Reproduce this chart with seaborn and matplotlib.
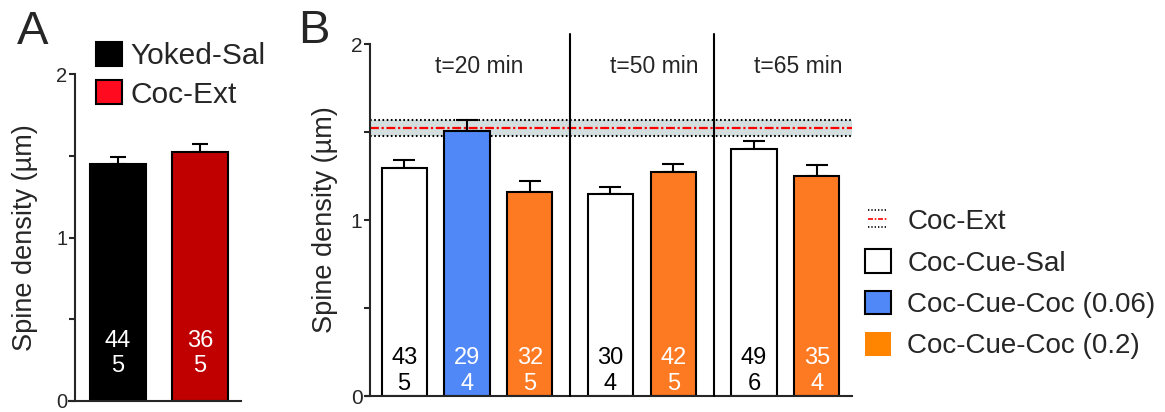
import numpy as np
import matplotlib
matplotlib.use('agg')
import matplotlib.pyplot as plt
from matplotlib.patches import Patch
from matplotlib.lines import Line2D
from matplotlib.legend_handler import HandlerBase
import seaborn as sns

# panel A: baseline groups
a_groups = ['Yoked-Sal', 'Coc-Ext']
a_means = [1.448, 1.523]
a_sem = [0.045, 0.047]
a_neurons = [44, 36]
a_animals = [5, 5]

# panel B: cue test at three time points
b_times = ['t=20 min', 't=20 min', 't=20 min', 't=50 min', 't=50 min', 't=65 min', 't=65 min']
b_conditions = ['Coc-Cue-Sal', 'Coc-Cue-Coc (0.06)', 'Coc-Cue-Coc (0.2)',
                'Coc-Cue-Sal', 'Coc-Cue-Coc (0.2)',
                'Coc-Cue-Sal', 'Coc-Cue-Coc (0.2)']
b_means = [1.294, 1.507, 1.161, 1.146, 1.271, 1.402, 1.248]
b_sem = [0.049, 0.059, 0.062, 0.043, 0.049, 0.048, 0.066]
b_neurons = [43, 29, 32, 30, 42, 49, 35]
b_animals = [5, 4, 5, 4, 5, 6, 4]

a_colors = {'Yoked-Sal': '#000000', 'Coc-Ext': '#c00000'}
b_colors = {'Coc-Cue-Sal': '#ffffff', 'Coc-Cue-Coc (0.06)': '#5088f8',
            'Coc-Cue-Coc (0.2)': '#fd7922'}
band_color = '#d6dfdf'

sns.set_style('ticks')
plt.rcParams['font.family'] = ['Liberation Sans', 'DejaVu Sans']

fig = plt.figure(figsize=(11.65, 4.12), dpi=100)
ax_a = fig.add_axes([69 / 1165, 1 - 401 / 412, (241 - 69) / 1165, 327 / 412])
ax_b = fig.add_axes([365 / 1165, 1 - 396 / 412, (852 - 365) / 1165, 352 / 412])


def style_axis(ax, spine_x, ylabel, labelpad, ticksize=15):
    ax.set_ylim(0, 2)
    ax.set_yticks([0, 1, 2])
    ax.set_yticks([0.5, 1.5], minor=True)
    ax.tick_params(axis='y', which='both', direction='out', length=4.5, width=1.5,
                   labelsize=ticksize, pad=1)
    ax.tick_params(axis='x', length=0, labelbottom=False)
    ax.spines['left'].set_position(('data', spine_x))
    for s in ['left', 'bottom']:
        ax.spines[s].set_linewidth(1.5)
    sns.despine(ax=ax)
    ax.set_ylabel(ylabel, fontsize=19.5, labelpad=labelpad)
    ax.set_xlabel('')


# ---- panel A ----
sns.barplot(x=a_groups, y=a_means, hue=a_groups, palette=a_colors, legend=False,
            saturation=1, width=0.68, edgecolor='black', linewidth=1.5, ax=ax_a, zorder=2)
ax_a.errorbar(range(len(a_means)), a_means, yerr=[np.zeros(len(a_sem)), a_sem],
              fmt='none', ecolor='black', elinewidth=1.5, capsize=6, capthick=1.5, zorder=1)
ax_a.set_xlim(-0.595, 1.5)
style_axis(ax_a, -0.524, 'Spine density (µm)', 13, ticksize=14.5)
for i, (n, m) in enumerate(zip(a_neurons, a_animals)):
    ax_a.text(i, 0.29, f'{n}\n{m}', ha='center', va='center', color='white', fontsize=17)

ax_a.legend(handles=[Patch(facecolor='#000000', edgecolor='black', lw=1.5),
                     Patch(facecolor='#ff0a1e', edgecolor='black', lw=1.5)],
            labels=a_groups, loc='upper left',
            bbox_to_anchor=(96 / 1165, 1 - 42 / 412), bbox_transform=fig.transFigure,
            frameon=False, fontsize=21.5, handlelength=0.87, handleheight=0.87,
            handletextpad=0.27, labelspacing=0.33, borderpad=0, borderaxespad=0)

# ---- panel B ----
group_gap = 1.283
positions = []
x = 0.0
for i, t in enumerate(b_times):
    if i > 0:
        x += 1 if t == b_times[i - 1] else group_gap
    positions.append(x)
positions = np.array(positions)

ext_mean, ext_sem = a_means[1], a_sem[1]
spine_b = positions[0] - 0.543
right_b = positions[-1] + 0.56
ax_b.fill_between([spine_b, right_b], ext_mean - ext_sem, ext_mean + ext_sem,
                  color=band_color, lw=0, zorder=0)
for yy in [ext_mean - ext_sem, ext_mean + ext_sem]:
    ax_b.plot([spine_b, right_b], [yy, yy], color='black', lw=1.5,
              ls=(0, (0.8, 1.2)), zorder=0.5)
ax_b.plot([spine_b, right_b], [ext_mean, ext_mean], color='red', lw=1.6,
          ls=(0, (4, 1.2, 1, 1.2)), zorder=0.5)

sns.barplot(x=positions, y=b_means, hue=b_conditions, palette=b_colors, native_scale=True,
            dodge=False, legend=False, saturation=1, width=0.72, edgecolor='black',
            linewidth=1.5, ax=ax_b, zorder=2)
ax_b.errorbar(positions, b_means, yerr=[np.zeros(len(b_sem)), b_sem], fmt='none',
              ecolor='black', elinewidth=1.5, capsize=8, capthick=1.5, zorder=1)
ax_b.set_xlim(spine_b - 0.08, right_b)
style_axis(ax_b, spine_b, 'Spine density (µm)', 9)

times = list(dict.fromkeys(b_times))
for k, t in enumerate(times):
    idx = [i for i, tt in enumerate(b_times) if tt == t]
    ax_b.text(positions[idx].mean() + 0.2, 1.871, t, ha='center', va='center', fontsize=16.5)
    if k > 0:
        xsep = (positions[idx[0] - 1] + positions[idx[0]]) / 2
        ax_b.plot([xsep, xsep], [0, 2.057], color='black', lw=1.5, clip_on=False, zorder=3)

for p, n, m, c in zip(positions, b_neurons, b_animals, b_conditions):
    col = 'black' if c == 'Coc-Cue-Sal' else 'white'
    ax_b.text(p, 0.142, f'{n}\n{m}', ha='center', va='center', color=col, fontsize=17)


class BandHandler(HandlerBase):
    def create_artists(self, legend, orig_handle, xdescent, ydescent, width, height,
                       fontsize, trans):
        x0, x1 = -xdescent + 2, -xdescent + width - 2
        ym = (height - ydescent) / 2
        off = 6.3
        arts = []
        for yy in [ym - off, ym + off]:
            arts.append(Line2D([x0, x1], [yy, yy], color='black', lw=1.2,
                               ls=(0, (0.8, 1.2)), transform=trans))
        arts.append(Line2D([x0, x1], [ym, ym], color='red', lw=1.2,
                           ls=(0, (3, 1, 1, 1)), transform=trans))
        return arts


band_handle = Line2D([], [], color='red')
b_handles = [band_handle,
             Patch(facecolor='#ffffff', edgecolor='black', lw=1.5),
             Patch(facecolor='#5088f8', edgecolor='black', lw=1.5),
             Patch(facecolor='#ff8400', edgecolor='none')]
b_labels = ['Coc-Ext', 'Coc-Cue-Sal', 'Coc-Cue-Coc (0.06)', 'Coc-Cue-Coc (0.2)']
ax_b.legend(handles=b_handles, labels=b_labels, handler_map={band_handle: BandHandler()},
            loc='upper left', bbox_to_anchor=(865 / 1165, 1 - 208 / 412),
            bbox_transform=fig.transFigure, frameon=False, fontsize=20,
            handlelength=0.94, handleheight=0.94, handletextpad=0.58,
            labelspacing=0.5, borderpad=0, borderaxespad=0)

fig.text(33 / 1165, 1 - 32 / 412, 'A', fontsize=34, ha='center', va='center')
fig.text(314 / 1165, 1 - 31 / 412, 'B', fontsize=34, ha='center', va='center')

fig.savefig('out.png', dpi=100)
plt.close(fig)
